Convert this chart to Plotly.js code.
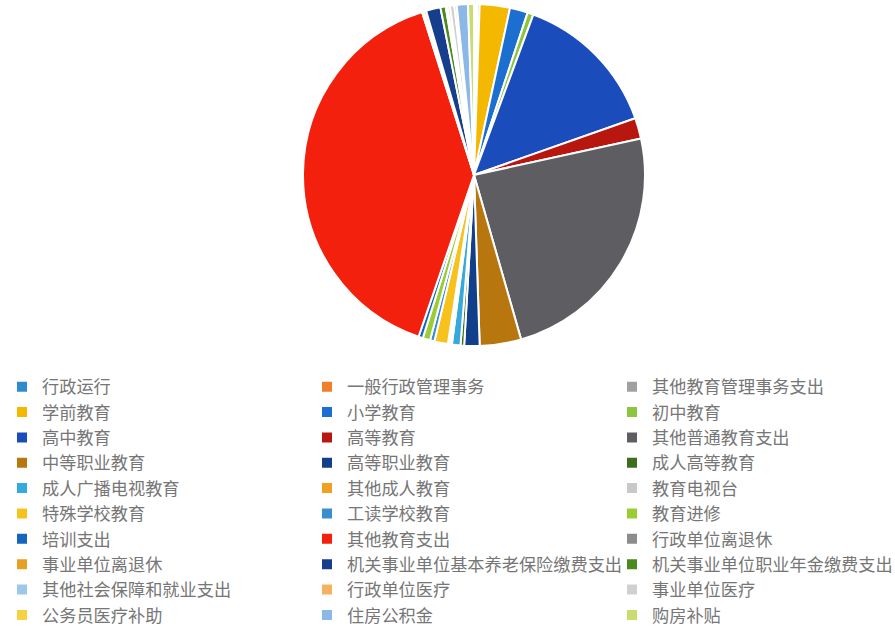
<!DOCTYPE html>
<html>
<head>
<meta charset="utf-8">
<script src="https://cdn.plot.ly/plotly-3.0.1.min.js"></script>
<style>html,body{margin:0;padding:0;background:#fff;overflow:hidden;}#chart{width:920px;height:636px;}</style>
</head>
<body>
<div id="chart"></div>
<script>
// Categories (legend order = slice order, clockwise from 12 o'clock)
var categories = [
  "行政运行", "一般行政管理事务", "其他教育管理事务支出",
  "学前教育", "小学教育", "初中教育",
  "高中教育", "高等教育", "其他普通教育支出",
  "中等职业教育", "高等职业教育", "成人高等教育",
  "成人广播电视教育", "其他成人教育", "教育电视台",
  "特殊学校教育", "工读学校教育", "教育进修",
  "培训支出", "其他教育支出", "行政单位离退休",
  "事业单位离退休", "机关事业单位基本养老保险缴费支出", "机关事业单位职业年金缴费支出",
  "其他社会保障和就业支出", "行政单位医疗", "事业单位医疗",
  "公务员医疗补助", "住房公积金", "购房补贴"
];
// Share of total (%)
var shares = [
  0.17, 0.14, 0.22,
  2.85, 1.70, 0.56,
  13.97, 1.96, 23.99,
  3.91, 1.45, 0.34,
  0.81, 0.17, 0.20,
  1.28, 0.42, 0.70,
  0.42, 39.83, 0.17,
  0.22, 1.37, 0.50,
  0.17, 0.22, 0.42,
  0.22, 1.06, 0.56
];
var sliceColors = [
  "#2E8BD0", "#F07F2A", "#A0A0A0",
  "#F5B800", "#1C6FD0", "#8CC63F",
  "#1B4CBC", "#B8170F", "#5E5E62",
  "#B8760F", "#123F8C", "#3C6E1E",
  "#35A8DC", "#F0A020", "#C8C8C8",
  "#F8C21C", "#3A8ED0", "#9ACD32",
  "#1565C0", "#F2200C", "#8C8C8C",
  "#E8A020", "#163E8C", "#4A8A1E",
  "#9CC8EA", "#F5B060", "#D0D0D0",
  "#F8D040", "#8CB8E8", "#C8DC70"
];

var W = 920, H = 636;
var trace = {
  type: "pie",
  labels: categories,
  values: shares,
  sort: false,
  direction: "clockwise",
  rotation: 0,
  textinfo: "none",
  hoverinfo: "label+percent",
  marker: { colors: sliceColors, line: { color: "#ffffff", width: 2 } },
  domain: { x: [303 / W, 645 / W], y: [1 - 346 / H, 1 - 4 / H] }
};

var layout = {
  width: W,
  height: H,
  margin: { l: 0, r: 0, t: 0, b: 0 },
  paper_bgcolor: "#ffffff",
  showlegend: true,
  legend: {
    orientation: "h",
    x: 2 / W,
    xanchor: "left",
    y: 1 - 369 / H,
    yanchor: "top",
    entrywidth: 260,
    entrywidthmode: "pixels",
    traceorder: "normal",
    font: { family: "Noto Sans CJK SC, sans-serif", size: 17.2, color: "#767676" }
  },
  font: { family: "Noto Sans CJK SC, sans-serif" }
};

Plotly.newPlot("chart", [trace], layout, { displayModeBar: false, staticPlot: true });
</script>
</body>
</html>
